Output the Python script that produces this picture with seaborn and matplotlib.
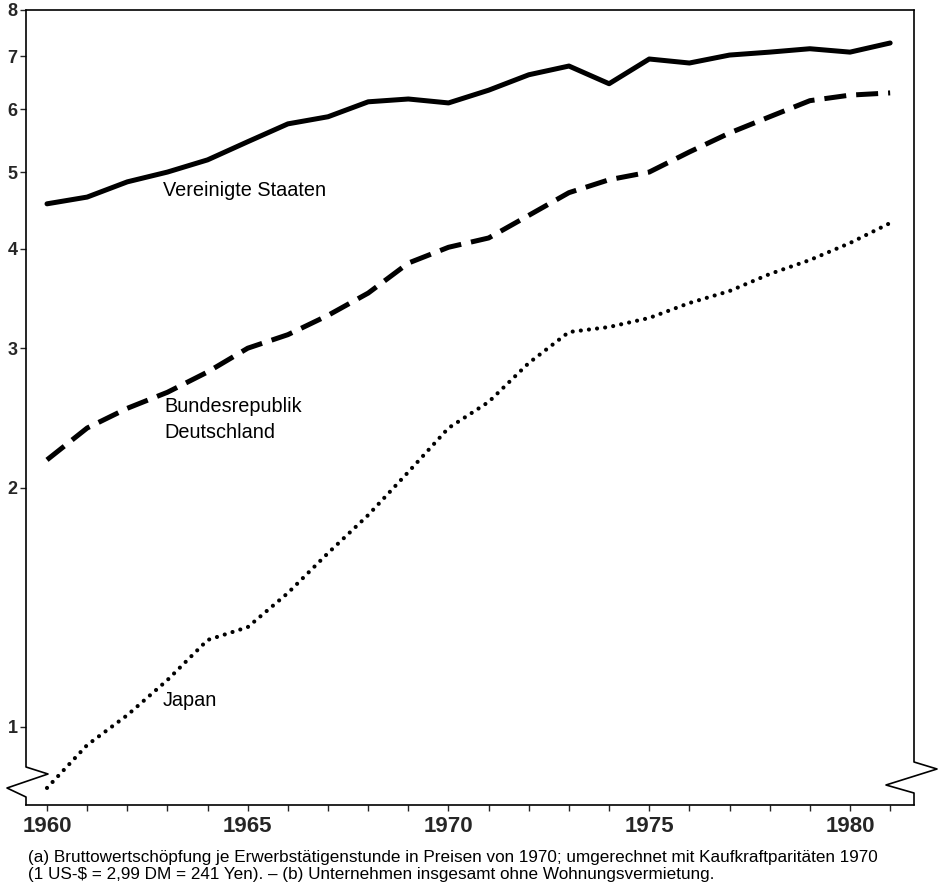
import numpy as np
import pandas as pd
import matplotlib
matplotlib.use('Agg')
import matplotlib.pyplot as plt
import seaborn as sns

years = list(range(1960, 1982))

# Bruttowertschoepfung je Erwerbstaetigenstunde
usa = [4.56, 4.65, 4.86, 5.00, 5.18, 5.46, 5.75, 5.87, 6.13, 6.18, 6.11,
       6.34, 6.63, 6.80, 6.46, 6.94, 6.86, 7.02, 7.08, 7.15, 7.08, 7.27]
brd = [2.17, 2.38, 2.52, 2.64, 2.80, 3.00, 3.12, 3.30, 3.52, 3.84, 4.02,
       4.13, 4.41, 4.71, 4.89, 5.00, 5.30, 5.60, 5.87, 6.15, 6.25, 6.29]
japan = [0.838, 0.949, 1.035, 1.146, 1.287, 1.336, 1.475, 1.656, 1.849, 2.095, 2.38,
         2.567, 2.874, 3.144, 3.19, 3.275, 3.42, 3.541, 3.72, 3.874, 4.07, 4.313]

yticks = [1, 2, 3, 4, 5, 6, 7, 8]
xticks = [1960, 1965, 1970, 1975, 1980]

footnote = ("(a) Bruttowertschöpfung je Erwerbstätigenstunde in Preisen von 1970; "
            "umgerechnet mit Kaufkraftparitäten 1970\n"
            r"(1 US-\$ = 2,99 DM = 241 Yen). – (b) Unternehmen insgesamt ohne Wohnungsvermietung.")

sns.set_style('white')
plt.rcParams['font.family'] = ['Liberation Sans', 'DejaVu Sans']

W, H = 938, 882
fig = plt.figure(figsize=(W / 100, H / 100), dpi=100)

# axes box in pixels
x0, x1, ytop, ybot = 26, 914, 10, 805
ax = fig.add_axes([x0 / W, 1 - ybot / H, (x1 - x0) / W, (ybot - ytop) / H])

df = pd.DataFrame({'Jahr': years, 'USA': usa, 'BRD': brd, 'Japan': japan})

sns.lineplot(data=df, x='Jahr', y='USA', ax=ax, color='black', lw=3.6,
             solid_capstyle='round', solid_joinstyle='round')
sns.lineplot(data=df, x='Jahr', y='BRD', ax=ax, color='black', lw=3.6,
             linestyle=(0, (4.4, 2.0)), dash_capstyle='butt')
sns.lineplot(data=df, x='Jahr', y='Japan', ax=ax, color='black', lw=3.0,
             linestyle=(0, (0.01, 1.95)), dash_capstyle='round')

ax.set_yscale('log')
px_per_year = 40.15
ax.set_xlim(1960 - (47 - x0) / px_per_year, 1960 + (x1 - 47) / px_per_year)
ax.set_ylim(np.exp(-(ybot - 727) / 344.8), 8)

ax.set_yticks(yticks)
ax.set_yticklabels([str(t) for t in yticks], fontweight='bold', fontsize=13)
ax.yaxis.set_minor_locator(matplotlib.ticker.NullLocator())
ax.set_xticks(years, minor=True)
ax.set_xticks(xticks)
ax.set_xticklabels([str(t) for t in xticks], fontweight='bold', fontsize=16)
ax.tick_params(axis='y', which='major', direction='out', length=4, width=1, pad=2, left=True)
ax.tick_params(axis='x', which='both', direction='out', length=4, width=1, pad=4, bottom=True)
ax.set_xlabel('')
ax.set_ylabel('')

for s in ['left', 'right']:
    ax.spines[s].set_visible(False)
for s in ['top', 'bottom']:
    ax.spines[s].set_color('black')
    ax.spines[s].set_linewidth(1.2)

# vertical axes with break marks
def to_ax(pts):
    fx = [(p[0] - x0) / (x1 - x0) for p in pts]
    fy = [(ybot - p[1]) / (ybot - ytop) for p in pts]
    return fx, fy

left_pts = [(26, 10), (26, 767), (48, 774), (7, 788), (26, 797), (26, 805)]
right_pts = [(914, 10), (914, 762), (937, 769), (886, 785), (914, 793), (914, 805)]
for pts in [left_pts, right_pts]:
    fx, fy = to_ax(pts)
    ax.plot(fx, fy, color='black', lw=1.2, transform=ax.transAxes, clip_on=False)

lab = dict(fontsize=14.3, color='black', ha='left', va='center', transform=fig.transFigure)
fig.text(163 / W, 1 - 190 / H, 'Vereinigte Staaten', **lab)
fig.text(164 / W, 1 - 407 / H, 'Bundesrepublik', **lab)
fig.text(164 / W, 1 - 432 / H, 'Deutschland', **lab)
fig.text(163 / W, 1 - 701 / H, 'Japan', **lab)

fig.text(28 / W, 1 - 850 / H, footnote, fontsize=12.3, ha='left', va='top',
         linespacing=1.2, color='black')

fig.savefig('out.png', dpi=100, facecolor='white')
